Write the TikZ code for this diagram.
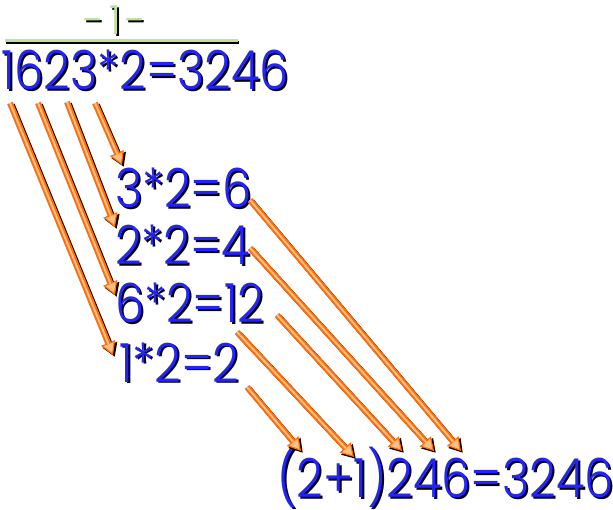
\documentclass[tikz,border=0pt]{standalone}
\usepackage{fontspec}
\setmainfont{Poppins Light}
\usetikzlibrary{arrows.meta}
\definecolor{eqblue}{RGB}{35,35,250}
\definecolor{titlegreen}{RGB}{190,225,155}
\definecolor{arrorange}{RGB}{255,110,10}
\definecolor{arrpeach}{RGB}{255,190,130}
\newcommand{\eqfont}{\fontsize{54}{54}\selectfont}
\newcommand{\sq}[1]{\scalebox{0.86}[1]{#1}}
\tikzset{
  eq/.style={font=\eqfont, text=eqblue, inner sep=0pt, anchor=base west},
  eqsh/.style={eq, text=black},
  arrsh/.style={black, line width=6pt, -{Triangle[length=13pt,width=15pt]}},
  arrmain/.style={arrorange, line width=6pt, -{Triangle[length=13pt,width=15pt,line width=1.2pt,fill=arrpeach]}},
  arrcore/.style={arrpeach, line width=2pt, shorten >=12pt},
}
\newcommand{\eqtext}[4]{%
  \node[eqsh] (#1s) at (#2+2,#3+2) {\sq{#4}};
  \node[eq] (#1) at (#2,#3) {\sq{#4}};}
\newcommand{\fancyarrow}[2]{%
  \draw[arrsh, transform canvas={shift={(1.8pt,-1.8pt)}}] (#1) -- (#2);
  \draw[arrmain] (#1) -- (#2);
  \draw[arrcore] (#1) -- (#2);}
\begin{document}
\begin{tikzpicture}[x=1pt,y=-1pt]
\useasboundingbox (0,0) rectangle (613,510);
% title
\node[font=\fontsize{40}{40}\selectfont, text=black, inner sep=0pt, anchor=base] (titles) at (117,37) {-\hspace{5pt}1\hspace{5pt}-};
\node[font=\fontsize{40}{40}\selectfont, text=titlegreen, inner sep=0pt, anchor=base] (title) at (115,35) {-\hspace{5pt}1\hspace{5pt}-};
\coordinate (rl) at (5,41);
\coordinate (rr) at (238,41);
\draw[black, line width=3pt] ([shift={(1,2)}]rl) -- ([shift={(1,2)}]rr);
\draw[titlegreen, line width=3pt] (rl) -- (rr);
% equations
\eqtext{top}{1}{90}{1623*2=3246}
\eqtext{ea}{115}{208}{3*2=6}
\eqtext{eb}{115}{265}{2*2=4}
\eqtext{ec}{115}{323}{6*2=12}
\eqtext{ed}{119}{382}{1*2=2}
\eqtext{res}{277}{497}{(2+1)246=3246}
% arrow endpoints
\coordinate (s1) at (10,103); \coordinate (t1) at (113,355);
\coordinate (s2) at (38,103); \coordinate (t2) at (115,295);
\coordinate (s3) at (67,102); \coordinate (t3) at (115,227);
\coordinate (s4) at (95,103); \coordinate (t4) at (122,165);
\coordinate (r1) at (250,200); \coordinate (u1) at (461,451);
\coordinate (r2) at (250,248); \coordinate (u2) at (434,451);
\coordinate (r3) at (277,315); \coordinate (u3) at (402,451);
\coordinate (r4) at (237,332); \coordinate (u4) at (354,457);
\coordinate (r5) at (247,387); \coordinate (u5) at (301,451);
\fancyarrow{s1}{t1}
\fancyarrow{s2}{t2}
\fancyarrow{s3}{t3}
\fancyarrow{s4}{t4}
\fancyarrow{r1}{u1}
\fancyarrow{r2}{u2}
\fancyarrow{r3}{u3}
\fancyarrow{r4}{u4}
\fancyarrow{r5}{u5}
\end{tikzpicture}
\end{document}
